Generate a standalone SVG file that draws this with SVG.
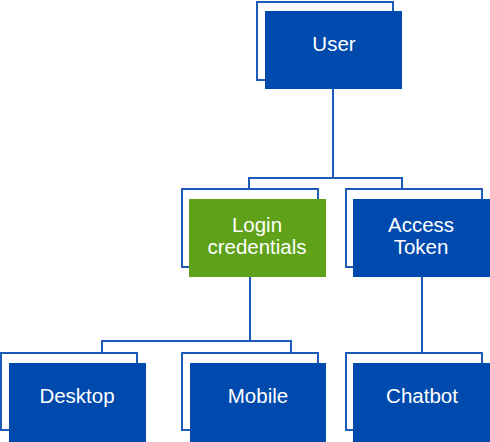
<svg xmlns="http://www.w3.org/2000/svg" width="490" height="442" viewBox="0 0 490 442">
<style>
.back{fill:#fff;stroke:#1D5BB8;stroke-width:2}
.blue{fill:#004AAD}
.green{fill:#5FA219}
.conn{fill:none;stroke:#1D5BB8;stroke-width:2}
text{font-family:"Liberation Sans",Arial,sans-serif;font-size:20.5px;fill:#fff;text-anchor:middle}
</style>
<rect width="490" height="442" fill="#fff"/>
<g id="connectors">
<path class="conn" d="M333 89V178M249 189V178H402V189"/>
<path class="conn" d="M250 277V341M102 352V341H291V352"/>
<path class="conn" d="M422 277V352"/>
</g>
<g id="user">
<rect class="back" x="257" y="2" width="136" height="78"/>
<rect class="blue" x="265" y="11" width="137" height="78"/>
<text x="334" y="51">User</text>
</g>
<g id="login">
<rect class="back" x="182" y="189" width="136" height="78"/>
<rect class="green" x="189" y="199" width="137" height="78"/>
<text x="257" y="232">Login</text>
<text x="257" y="254">credentials</text>
</g>
<g id="access">
<rect class="back" x="346" y="189" width="136" height="78"/>
<rect class="blue" x="353" y="199" width="137" height="78"/>
<text x="421" y="232">Access</text>
<text x="421" y="254">Token</text>
</g>
<g id="desktop">
<rect class="back" x="1" y="353" width="136" height="77"/>
<rect class="blue" x="9" y="363" width="137" height="79"/>
<text x="77" y="403">Desktop</text>
</g>
<g id="mobile">
<rect class="back" x="182" y="353" width="136" height="77"/>
<rect class="blue" x="190" y="363" width="136" height="79"/>
<text x="258" y="403">Mobile</text>
</g>
<g id="chatbot">
<rect class="back" x="346" y="353" width="136" height="77"/>
<rect class="blue" x="353" y="363" width="137" height="79"/>
<text x="422" y="403">Chatbot</text>
</g>
</svg>
